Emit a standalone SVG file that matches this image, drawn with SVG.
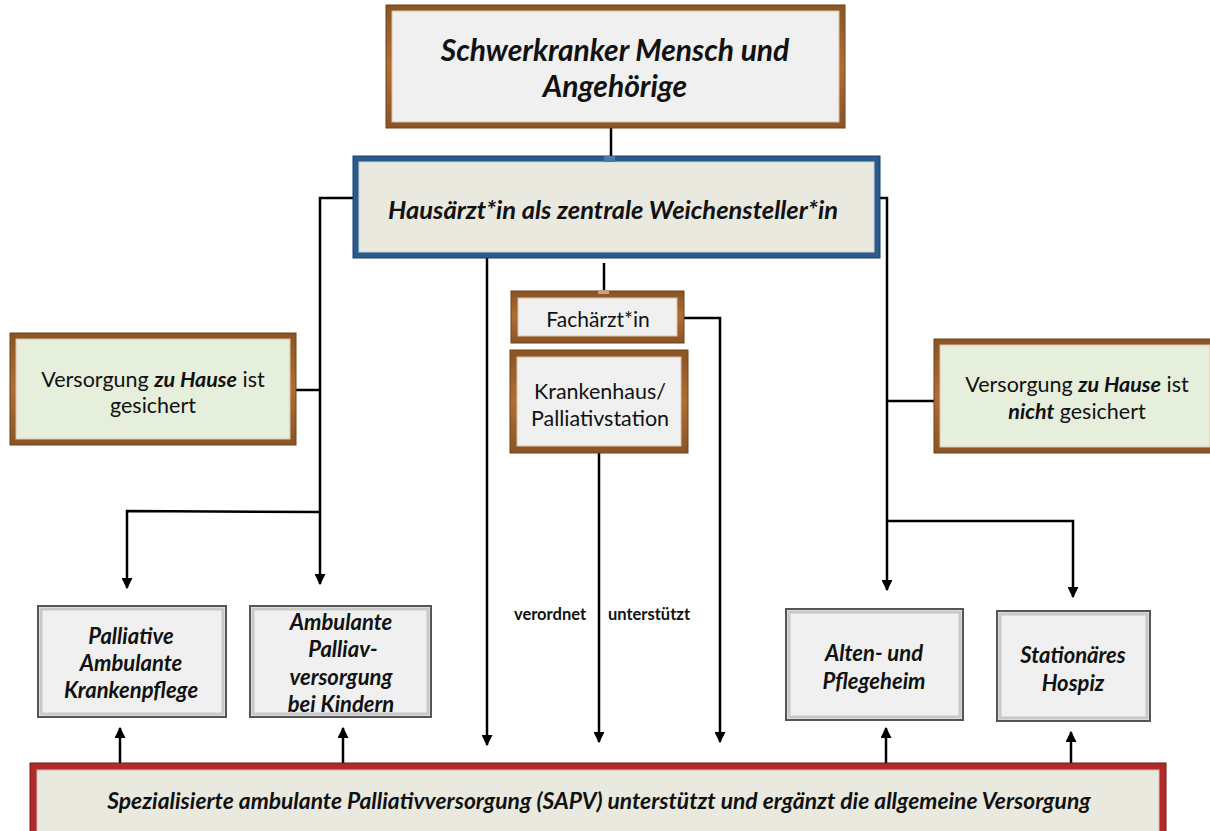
<svg xmlns="http://www.w3.org/2000/svg" width="1210" height="831" viewBox="0 0 1210 831">
<style>
.t{font-family:Lato,"Open Sans",sans-serif;fill:#111;text-anchor:middle}
.bi{font-weight:bold;font-style:italic}
.gray{fill:#eff0ef;stroke:#555;stroke-width:2}
.grayin{fill:none;stroke:#c8c8c8;stroke-width:3}
.ln{fill:none;stroke:#000;stroke-width:2.5}
</style>
<defs>
<marker id="ah" viewBox="0 0 10 10" refX="9" refY="5" markerWidth="4.4" markerHeight="4.4" orient="auto" markerUnits="strokeWidth">
<path d="M0,0 L10,5 L0,10 z" fill="#000"/>
</marker>
<linearGradient id="bg" x1="0" y1="0" x2="0" y2="1">
<stop offset="0" stop-color="#8a5425"/><stop offset="0.5" stop-color="#b06d34"/><stop offset="1" stop-color="#8a5425"/>
</linearGradient>
</defs>

<g id="connectors">
<path class="ln" d="M611,128 V160" stroke-width="1.5"/>
<path class="ln" d="M353,198 H320 V584" marker-end="url(#ah)"/>
<path class="ln" d="M296,390 H320"/>
<path class="ln" d="M320,512 L127,511 V588" marker-end="url(#ah)"/>
<path class="ln" d="M120,766 V728" marker-end="url(#ah)"/>
<path class="ln" d="M343,766 V728" marker-end="url(#ah)"/>
<path class="ln" d="M487,258 V745" marker-end="url(#ah)"/>
<path class="ln" d="M604,263 V290" stroke-width="1.5"/>
<path class="ln" d="M599,453 V742" marker-end="url(#ah)"/>
<path class="ln" d="M684,318 H720 V742" marker-end="url(#ah)"/>
<path class="ln" d="M880,198 H887 V590" marker-end="url(#ah)"/>
<path class="ln" d="M887,401 H935"/>
<path class="ln" d="M887,521 H1073 V597" marker-end="url(#ah)"/>
<path class="ln" d="M886,766 V728" marker-end="url(#ah)"/>
<path class="ln" d="M1071,766 V732" marker-end="url(#ah)"/>
</g>

<g id="n-mensch">
<rect x="386" y="5" width="459" height="123" fill="url(#bg)" stroke="#6e4219"/>
<rect x="392" y="11" width="447" height="111" fill="#eff0ef" stroke="#d9c2a8"/>
<text class="t bi" x="615" y="61" font-size="30">Schwerkranker Mensch und</text>
<text class="t bi" x="615" y="97" font-size="30">Angehörige</text>
</g>

<g id="n-hausarzt">
<rect x="353" y="156" width="527" height="102" fill="#2b5b8a" stroke="#1c3f66"/>
<rect x="359" y="162" width="515" height="90" fill="#e9e9df" stroke="#c9d3de"/>
<rect x="604" y="156" width="11" height="6" fill="#4a7aa8"/>
<text class="t bi" x="613" y="219" font-size="25.5">Hausärzt*in als zentrale Weichensteller*in</text>
</g>

<g id="n-zuhause">
<rect x="10" y="333" width="286" height="112" fill="url(#bg)" stroke="#6e4219"/>
<rect x="16" y="339" width="274" height="100" fill="#e6eedc" stroke="#d9c2a8"/>
<text class="t" x="153" y="387" font-size="21.5">Versorgung <tspan class="bi">zu Hause</tspan> ist</text>
<text class="t" x="153" y="413" font-size="21.5">gesichert</text>
</g>

<g id="n-facharzt">
<rect x="511" y="291" width="173" height="52" fill="url(#bg)" stroke="#6e4219"/>
<rect x="518" y="298" width="159" height="38" fill="#eff0ef" stroke="#d9c2a8"/>
<rect x="598" y="291" width="11" height="3" fill="#c9a27a"/>
<text class="t" x="598" y="327" font-size="21">Fachärzt*in</text>
</g>

<g id="n-krankenhaus">
<rect x="510" y="350" width="178" height="103" fill="url(#bg)" stroke="#6e4219"/>
<rect x="517" y="357" width="164" height="89" fill="#eff0ef" stroke="#d9c2a8"/>
<text class="t" x="600" y="399" font-size="21.5">Krankenhaus/</text>
<text class="t" x="600" y="426" font-size="21.5">Palliativstation</text>
</g>

<g id="n-nicht">
<rect x="934" y="339" width="280" height="114" fill="url(#bg)" stroke="#6e4219"/>
<rect x="940" y="345" width="270" height="102" fill="#e6eedc" stroke="#d9c2a8"/>
<text class="t" x="1077" y="392" font-size="21.5">Versorgung <tspan class="bi">zu Hause</tspan> ist</text>
<text class="t" x="1077" y="419" font-size="21.5"><tspan class="bi">nicht</tspan> gesichert</text>
</g>

<g id="n-pak">
<rect class="gray" x="38" y="606" width="188" height="111"/>
<rect class="grayin" x="41" y="609" width="182" height="105"/>
<text class="t bi" x="131" y="644" font-size="22">Palliative</text>
<text class="t bi" x="131" y="671" font-size="22">Ambulante</text>
<text class="t bi" x="131" y="698" font-size="22">Krankenpflege</text>
</g>

<g id="n-kinder">
<rect class="gray" x="250" y="606" width="181" height="111"/>
<rect class="grayin" x="253" y="609" width="175" height="105"/>
<text class="t bi" x="341" y="630" font-size="22">Ambulante</text>
<text class="t bi" x="343" y="657" font-size="22">Palliav-</text>
<text class="t bi" x="341" y="685" font-size="22">versorgung</text>
<text class="t bi" x="341" y="712" font-size="22">bei Kindern</text>
</g>

<g id="n-alten">
<rect class="gray" x="786" y="609" width="177" height="111"/>
<rect class="grayin" x="789" y="612" width="171" height="105"/>
<text class="t bi" x="874" y="661" font-size="22">Alten- und</text>
<text class="t bi" x="874" y="689" font-size="22">Pflegeheim</text>
</g>

<g id="n-hospiz">
<rect class="gray" x="997" y="611" width="153" height="110"/>
<rect class="grayin" x="1000" y="614" width="147" height="104"/>
<text class="t bi" x="1073" y="663" font-size="22">Stationäres</text>
<text class="t bi" x="1073" y="691" font-size="22">Hospiz</text>
</g>

<g id="n-sapv">
<rect x="30" y="763" width="1136" height="72" fill="#b02a2a" stroke="#7a1414"/>
<rect x="37" y="770" width="1122" height="70" fill="#e9e9df" stroke="#d6b8b8"/>
<text class="t bi" x="599" y="809" font-size="22.8">Spezialisierte ambulante Palliativversorgung (SAPV) unterstützt und ergänzt die allgemeine Versorgung</text>
</g>

<g id="labels">
<text class="t" x="550" y="620" font-size="16.5" font-weight="bold" fill="#222">verordnet</text>
<text class="t" x="649" y="620" font-size="16.5" font-weight="bold" fill="#222">unterstützt</text>
</g>
</svg>
